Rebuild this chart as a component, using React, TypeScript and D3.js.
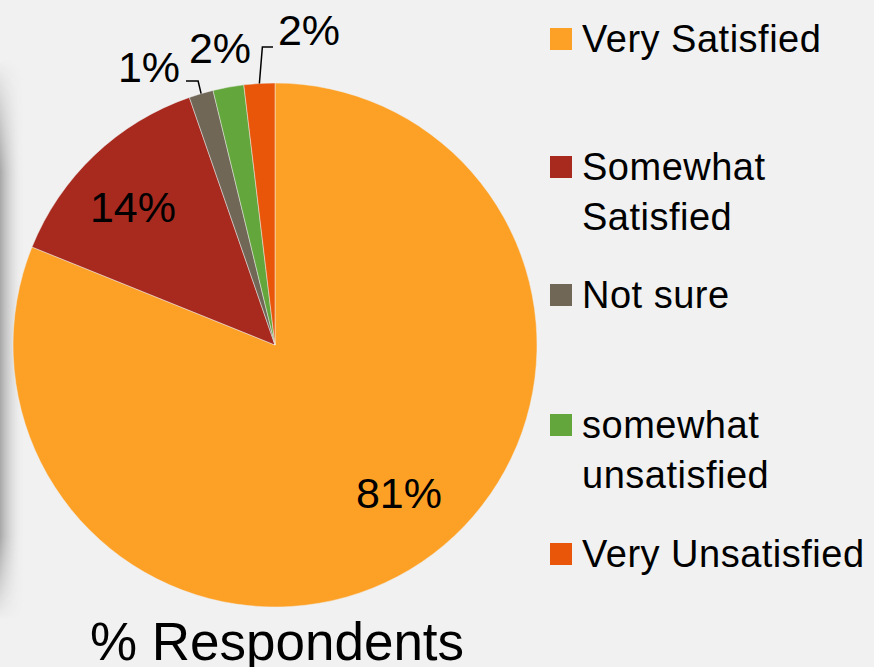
import React from "react";
import * as d3 from "d3";

const categories = ["Very Satisfied", "Somewhat Satisfied", "Not sure", "somewhat unsatisfied", "Very Unsatisfied"];
const values = [81.1, 13.6, 1.5, 1.9, 1.9];
const valueLabels = ["81%", "14%", "1%", "2%", "2%"];
const legendLines = [["Very Satisfied"], ["Somewhat", "Satisfied"], ["Not sure"], ["somewhat", "unsatisfied"], ["Very Unsatisfied"]];
const colors = ["#FDA126", "#A82A1F", "#706757", "#63A63B", "#E9560A"];
const title = "% Respondents";

const W = 874, H = 667;
const CX = 275, CY = 345, R = 262;
const FONT = "'Liberation Sans', Arial, sans-serif";

// label layout (by slice index)
const inside: Record<number, { x: number; y: number }> = {
  0: { x: 399, y: 508 },
  1: { x: 133, y: 222 },
};
const outside: Record<number, { x: number; y: number; leader: boolean; elbowX?: number; elbowY?: number }> = {
  2: { x: 149, y: 82, leader: true, elbowX: 186, elbowY: 81 },
  3: { x: 220, y: 63, leader: false },
  4: { x: 309, y: 45, leader: true, elbowX: 273, elbowY: 47 },
};

const legendY = [52, 180, 308, 438, 567];

export default function App() {
  const pie = d3.pie<number>().sort(null).startAngle(0).endAngle(2 * Math.PI);
  const arcs = pie(values);
  const arc = d3.arc<d3.PieArcDatum<number>>().innerRadius(0).outerRadius(R);
  const pt = (a: number, r: number) => [Math.sin(a) * r, -Math.cos(a) * r];

  return (
    <svg width={W} height={H} style={{ position: "fixed", left: 0, top: 0 }} fontFamily={FONT}>
      <defs>
        <linearGradient id="shadowX" x1="0" x2="1" y1="0" y2="0">
          <stop offset="0" stopColor="#9a9a9a" stopOpacity={0.85} />
          <stop offset="0.5" stopColor="#c8c8c8" stopOpacity={0.5} />
          <stop offset="1" stopColor="#f0f0f0" stopOpacity={0} />
        </linearGradient>
        <linearGradient id="shadowMask" x1="0" x2="0" y1="0" y2="1">
          <stop offset="0" stopColor="#fff" stopOpacity={0} />
          <stop offset="0.2" stopColor="#fff" stopOpacity={1} />
          <stop offset="0.85" stopColor="#fff" stopOpacity={1} />
          <stop offset="1" stopColor="#fff" stopOpacity={0} />
        </linearGradient>
        <mask id="m">
          <rect x={0} y={60} width={30} height={560} fill="url(#shadowMask)" />
        </mask>
      </defs>
      <rect width={W} height={H} fill="#F1F1F1" />
      <rect x={0} y={60} width={24} height={560} fill="url(#shadowX)" mask="url(#m)" />
      <g transform={`translate(${CX},${CY})`}>
        {arcs.map((a, i) => (
          <path key={categories[i]} d={arc(a) || ""} fill={colors[i]} stroke="#F1F1F1" strokeWidth={0.8} strokeOpacity={0.6} />
        ))}
      </g>
      {arcs.map((a, i) => {
        const p = inside[i];
        if (!p) return null;
        return (
          <text key={"in" + i} x={p.x} y={p.y} textAnchor="middle" fontSize={43} fill="#000">
            {valueLabels[i]}
          </text>
        );
      })}
      {arcs.map((a, i) => {
        const o = outside[i];
        if (!o) return null;
        const mid = (a.startAngle + a.endAngle) / 2;
        const [px, py] = pt(mid, R);
        const ax = CX + px, ay = CY + py;
        const dir = o.elbowX! < ax ? -3 : 3;
        return (
          <g key={"out" + i}>
            {o.leader && (
              <polyline
                points={`${o.elbowX},${o.elbowY} ${ax + dir},${o.elbowY} ${ax},${ay}`}
                fill="none"
                stroke="#000"
                strokeWidth={1.5}
              />
            )}
            <text x={o.x} y={o.y} textAnchor="middle" fontSize={43} fill="#000">
              {valueLabels[i]}
            </text>
          </g>
        );
      })}
      <text x={277} y={660} textAnchor="middle" fontSize={53} fill="#000">{title}</text>
      {categories.map((c, i) => (
        <g key={c}>
          <rect x={550} y={legendY[i] - 24} width={22} height={22} fill={colors[i]} />
          {legendLines[i].map((ln, j) => (
            <text key={j} x={582} y={legendY[i] + j * 50} fontSize={38} letterSpacing={0.5} fill="#000">{ln}</text>
          ))}
        </g>
      ))}
    </svg>
  );
}
